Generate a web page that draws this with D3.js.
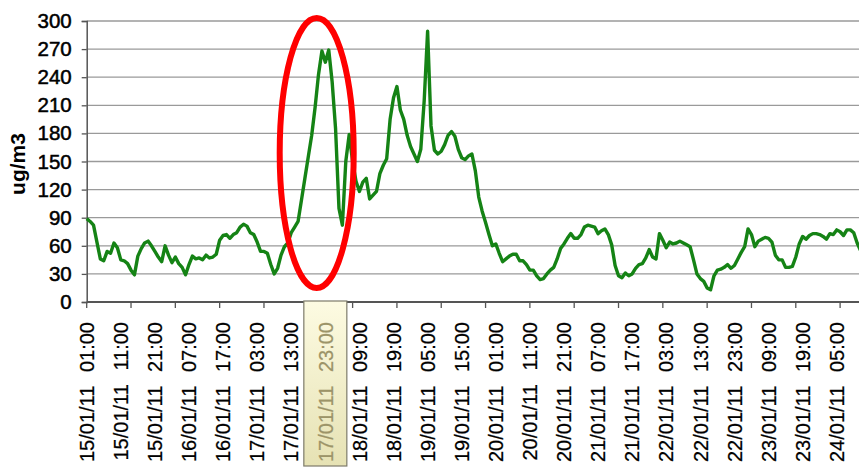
<!DOCTYPE html>
<html><head><meta charset="utf-8">
<script src="https://cdn.jsdelivr.net/npm/d3@7"></script>
<style>
html,body{margin:0;padding:0;background:#fff;}
svg{display:block;font-family:"Liberation Sans",Arial,sans-serif;}
</style></head>
<body>
<svg id="chart" width="859" height="467"></svg>
<script>
// hourly concentrations (ug/m3) starting 15/01/11 01:00
const values = [
 89,86,82,64,46,44,54,52,63,58, 45,44,41,34,29,49,57,63,65,60,
 54,48,43,60,50,42,48,41,37,29, 40,49,46,47,45,50,47,48,51,66,
 71,72,68,72,74,80,83,81,74,72, 64,54,54,52,40,30,36,50,59,63,
 74,80,86,109,132,155,178,208,243,268, 256,269,235,185,100,82,150,179,150,129,
 118,128,132,110,114,118,137,146,153,195, 218,230,205,195,178,166,158,150,163,215,
 289,188,162,158,161,168,178,182,177,163, 154,152,156,158,140,112,97,85,72,60,
 62,52,43,46,49,51,51,44,44,40, 34,34,28,24,25,30,34,37,46,57,
 62,68,73,68,68,72,80,82,81,80, 73,76,78,72,61,39,28,26,31,28,
 30,36,40,41,47,56,48,46,73,66, 58,64,62,63,65,63,61,59,45,30,
 25,22,15,13,28,34,35,37,40,36, 39,46,53,59,78,72,59,65,67,69,
 68,64,50,45,45,37,37,38,48,62, 70,67,71,73,73,72,70,67,73,72,
 77,75,71,77,77,74,63,55
];
const yTicks = [0,30,60,90,120,150,180,210,240,270,300];
const tickLabels = [
 "15/01/11 01:00","15/01/11 11:00","15/01/11 21:00","16/01/11 07:00","16/01/11 17:00",
 "17/01/11 03:00","17/01/11 13:00","17/01/11 23:00","18/01/11 09:00","18/01/11 19:00",
 "19/01/11 05:00","19/01/11 15:00","20/01/11 01:00","20/01/11 11:00","20/01/11 21:00",
 "21/01/11 07:00","21/01/11 17:00","22/01/11 03:00","22/01/11 13:00","22/01/11 23:00",
 "23/01/11 09:00","23/01/11 19:00","24/01/11 05:00"
];
const highlighted = "17/01/11 23:00";
const yTitle = "ug/m3";

const fmt = d3.utcFormat("%d/%m/%y %H:%M");
const start = Date.UTC(2011,0,15,1,0);
const categories = values.map((v,i)=>fmt(new Date(start + i*3600000)));

const W = 859, H = 467;
const x0 = 86.7, xLastLabel = 836.7;
const step = (xLastLabel - x0)/ (categories.indexOf(tickLabels[tickLabels.length-1]));
const x = d3.scalePoint().domain(categories).range([x0, x0 + step*(categories.length-1)]);
const y = d3.scaleLinear().domain([0,300]).range([302,21]);

const svg = d3.select("#chart");
const defs = svg.append("defs");
const grad = defs.append("linearGradient").attr("id","hl").attr("x1",0).attr("y1",0).attr("x2",0).attr("y2",1);
grad.append("stop").attr("offset","0%").attr("stop-color","#fdfbe2");
grad.append("stop").attr("offset","100%").attr("stop-color","#e6e2b4");

// gridlines
svg.append("g").selectAll("line").data(yTicks.filter(d=>d>0)).join("line")
  .attr("x1",x0).attr("x2",W).attr("y1",d=>y(d)).attr("y2",d=>y(d))
  .attr("stroke","#9a9a9a").attr("stroke-width",1.3);

// y axis
const yAxis = svg.append("g").attr("transform",`translate(${x0},0)`)
  .call(d3.axisLeft(y).tickValues(yTicks).tickSize(5).tickPadding(10));
yAxis.select(".domain").attr("stroke","#555").attr("stroke-width",1.5);
yAxis.selectAll(".tick line").attr("stroke","#555").attr("stroke-width",1.3);
yAxis.selectAll(".tick text").attr("font-size",20.5).attr("fill","#000")
  .attr("stroke","#000").attr("stroke-width",0.5)
  .attr("font-family","'Liberation Sans',Arial,sans-serif");

// x axis line and tick marks
svg.append("line").attr("x1",x0).attr("x2",W).attr("y1",y(0)).attr("y2",y(0))
  .attr("stroke","#555").attr("stroke-width",2);
const tickEvery = 13;
svg.append("g").selectAll("line").data(categories.filter((c,i)=>i%tickEvery===0)).join("line")
  .attr("x1",d=>x(d)).attr("x2",d=>x(d)).attr("y1",y(0)).attr("y2",y(0)+6)
  .attr("stroke","#555").attr("stroke-width",1.3);

// highlight box
const hx = x(highlighted);
svg.append("rect").attr("x",hx-21.5).attr("y",301).attr("width",43).attr("height",165)
  .attr("fill","url(#hl)").attr("stroke","#7d7b6a").attr("stroke-width",1.2);

// x labels
const lab = svg.append("g").selectAll("text").data(tickLabels).join("text")
  .attr("transform",d=>`translate(${x(d)},322) rotate(-90)`)
  .attr("text-anchor","end").attr("dy","0.36em")
  .attr("font-size",20)
  .attr("fill",d=>d===highlighted?"#9c9468":"#000")
  .attr("stroke",d=>d===highlighted?"#9c9468":"#000").attr("stroke-width",0.25);
lab.append("tspan").text(d=>d.split(" ")[0]+" ");
lab.append("tspan").attr("dx",8).text(d=>d.split(" ")[1]);

// y title
svg.append("text").attr("transform","translate(19,164) rotate(-90)")
  .attr("text-anchor","middle").attr("dy","0.3em")
  .attr("font-size",21).attr("font-weight","bold").attr("fill","#000").text(yTitle);

// line
const line = d3.line().x((d,i)=>x(categories[i])).y(d=>y(d));
svg.append("path").datum(values).attr("d",line)
  .attr("fill","none").attr("stroke","#158315").attr("stroke-width",3.4)
  .attr("stroke-linejoin","round");

// red ellipse annotation
svg.append("ellipse").attr("cx",316.7).attr("cy",153).attr("rx",37).attr("ry",135)
  .attr("fill","none").attr("stroke","#f00").attr("stroke-width",6);
</script>
</body></html>
